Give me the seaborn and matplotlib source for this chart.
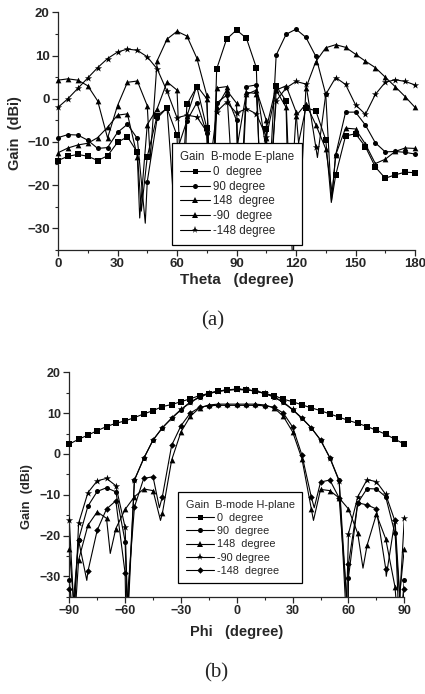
import matplotlib
matplotlib.use("Agg")
import matplotlib.pyplot as plt
import numpy as np
import pandas as pd
import seaborn as sns
from matplotlib.lines import Line2D
from matplotlib.ticker import MultipleLocator

# ---------------- data: (a) E-plane, Theta 0..180 step 5 ----------------
theta = list(range(0, 181, 5))
E_labels = ["0  degree", "90 degree", "148  degree", "-90  degree", "-148 degree"]
E_markers = ["s", "o", "^", "^", "*"]

E_0 = [-14.3, -13.3, -12.9, -13.3, -14.3, -13.2, -10.1, -8.8, -12.4, -13.4, -3.9, -2.2,
       -8.5, -1.3, 2.8, -6.8, 6.9, 13.8, 15.9, 14.0, 7.2, -7.0, 2.9, -0.5, -13.0, -2.1,
       -2.8, -9.5, -17.7, -8.6, -8.1, -11.1, -15.8, -18.4, -17.6, -17.0, -17.1]
E_90 = [-9.0, -8.3, -8.4, -9.6, -11.5, -11.3, -7.8, -5.9, -9.2, -19.2, -4.5, -2.1,
        -12.0, -5.1, -0.9, -8.0, -1.0, 0.8, -5.0, 2.8, 3.2, -12.0, 10.1, 14.9, 16.1, 14.2,
        9.8, 1.0, -13.0, -3.1, -3.1, -6.1, -10.2, -12.3, -12.2, -12.4, -12.8]
E_148 = [4.3, 4.6, 4.3, 3.0, -0.5, -9.1, -1.6, 3.8, 4.1, -1.6, 8.8, 13.8, 15.6, 14.5,
         9.4, 0.8, 2.5, 2.8, -12.0, 1.5, 1.2, -9.0, 2.0, -2.0, -4.0, -1.2, -6.0, -11.6,
         -13.0, -6.8, -7.0, -10.5, -15.0, -14.0, -12.2, -11.4, -11.5]
E_m90 = [-12.5, -11.4, -10.7, -10.3, -9.0, -6.6, -3.8, -3.5, -13.4, -6.0, -2.3, 3.9,
         2.0, -4.0, 3.0, 0.0, -2.0, 2.0, -1.0, 1.0, 2.0, -5.0, 2.0, 3.0, -3.0, 2.5, 8.6,
         11.8, 12.5, 11.9, 10.3, 8.7, 7.2, 5.0, 2.8, 0.5, -2.0]
E_m148 = [-2.0, 0.0, 2.4, 4.8, 7.2, 9.3, 10.8, 11.5, 11.2, 9.7, 6.9, 1.7, -4.4, -3.8,
          -4.2, -7.6, -3.0, -0.8, -3.3, -2.3, -3.5, -8.8, -0.5, 2.5, 4.0, 3.4, -11.2, 1.0,
          4.9, 3.3, -1.4, -3.6, 1.0, 3.8, 4.4, 4.0, 3.2]
# null (minimum) points of the traces between the marker positions
E_0_nx = [42.0, 61.5, 77.5, 102.5, 118.5, 137.8]
E_0_ny = [-26.0, -30.0, -31.0, -31.0, -40.0, -24.0]
E_90_nx = [44.0, 59.3, 76.5, 91.2, 105.3, 137.9]
E_90_ny = [-28.8, -30.0, -31.0, -31.0, -31.0, -23.5]
E_148_nx = [46.5, 77.5, 89.5, 103.5, 116.5, 138.3]
E_148_ny = [-14.0, -31.0, -31.0, -31.0, -30.0, -22.0]
E_m90_nx = [41.2, 63.0, 77.5, 91.8, 106.2, 122.8]
E_m90_ny = [-27.6, -30.0, -31.0, -30.0, -30.0, -18.4]
E_m148_nx = [76.8, 106.3, 130.8]
E_m148_ny = [-15.0, -22.0, -13.6]

# ---------------- data: (b) H-plane, Phi -90..90 step 5 ----------------
phi = list(range(-90, 91, 5))
H_labels = ["0  degree", "90  degree", "148  degree", "-90 degree", "-148  degree"]
H_markers = ["s", "o", "^", "*", "D"]

H_0 = [2.4, 3.6, 4.6, 5.7, 6.7, 7.5, 8.1, 8.9, 9.8, 10.6, 11.6, 12.1, 12.8, 13.5, 14.3,
       14.8, 15.3, 15.6, 15.8, 15.7, 15.4, 14.8, 14.3, 13.4, 12.8, 12.0, 11.3, 10.6, 9.8,
       9.0, 8.2, 7.5, 6.7, 5.8, 4.8, 3.6, 2.4]
H_90 = [-31.0, -21.0, -12.8, -9.2, -8.3, -9.3, -21.5, -6.4, -1.1, 3.4, 6.4, 8.7, 10.8,
        12.6, 13.9, 14.8, 15.4, 15.7, 15.8, 15.7, 15.4, 14.8, 13.9, 12.6, 10.8, 8.7, 6.4,
        3.4, -0.9, -6.5, -30.3, -12.0, -8.5, -8.6, -10.5, -19.5, -31.0]
H_148 = [-23.2, -26.0, -17.5, -14.2, -15.8, -18.3, -13.6, -10.5, -8.6, -9.0, -14.6, -1.5,
         5.4, 9.2, 11.3, 12.0, 12.2, 12.2, 12.2, 12.2, 12.2, 12.0, 11.3, 9.2, 5.4, -1.2,
         -13.4, -8.7, -9.0, -10.8, -13.5, -19.5, -22.4, -14.8, -20.8, -32.6, -23.2]
H_m90 = [-16.3, -17.0, -9.5, -6.6, -6.0, -7.8, -18.0, -6.4, -1.1, 3.4, 6.4, 8.8, 10.9,
         12.7, 14.0, 14.9, 15.4, 15.7, 15.9, 15.8, 15.4, 14.9, 14.0, 12.7, 10.9, 8.8, 6.4,
         3.4, -1.0, -6.7, -19.6, -10.5, -6.3, -6.8, -9.9, -16.5, -15.8]
H_m148 = [-33.0, -21.2, -28.8, -18.7, -13.5, -11.5, -29.3, -13.0, -6.0, -5.6, -10.5, 2.1,
          6.9, 10.0, 11.4, 11.8, 11.9, 11.9, 11.9, 11.9, 11.9, 11.8, 11.4, 10.0, 6.6, -0.3,
          -10.5, -6.9, -6.4, -10.8, -27.0, -12.0, -12.5, -13.5, -28.1, -16.1, -33.0]
H_0_nx, H_0_ny = [], []
H_90_nx = [-88.0, -58.8, 59.6, 88.3]
H_90_ny = [-40.0, -40.0, -40.0, -40.0]
H_148_nx = [-87.0, -68.0, -41.0, 41.2, 67.8, 86.3]
H_148_ny = [-40.0, -24.4, -16.3, -16.3, -28.0, -40.0]
H_m90_nx = [-87.3, -58.5, 58.8, 87.0]
H_m90_ny = [-40.0, -40.0, -40.0, -40.0]
H_m148_nx = [-88.5, -80.6, -59.6, -41.6, 41.6, 59.8, 80.3, 88.3]
H_m148_ny = [-40.0, -31.0, -40.0, -13.2, -13.2, -40.0, -30.0, -40.0]

# ---------------- style ----------------
sns.set_style("ticks")
plt.rcParams["font.family"] = ["Liberation Sans", "DejaVu Sans"]

MSIZE = {"s": 13, "o": 13, "^": 17, "*": 30, "D": 11}
LSIZE = {"s": 3.6, "o": 3.6, "^": 4.0, "*": 5.2, "D": 3.3}


def draw_series(ax, xs, ys, nx, ny, marker):
    df = pd.DataFrame({"x": list(xs) + list(nx), "y": list(ys) + list(ny)})
    df = df.sort_values("x")
    sns.lineplot(data=df, x="x", y="y", ax=ax, color="black", lw=0.8,
                 sort=False, estimator=None)
    sns.scatterplot(x=xs, y=ys, ax=ax, marker=marker, color="black",
                    s=MSIZE[marker], linewidth=0, clip_on=False, zorder=3)


def style_axes(ax, xlim, xmajor, xlabel, ylabel, tick_fs, xl_fs, yl_fs,
               xl_coords, yl_coords):
    ax.set_xlim(*xlim)
    ax.set_ylim(-35, 20)
    ax.xaxis.set_major_locator(MultipleLocator(xmajor))
    ax.xaxis.set_minor_locator(MultipleLocator(xmajor / 2))
    ax.yaxis.set_major_locator(MultipleLocator(10))
    ax.yaxis.set_minor_locator(MultipleLocator(5))
    sns.despine(ax=ax)
    for s in ("left", "bottom"):
        ax.spines[s].set_linewidth(0.9)
    ax.tick_params(which="major", direction="out", length=4, width=0.9,
                   labelsize=tick_fs, pad=2)
    ax.tick_params(which="minor", direction="out", length=2.2, width=0.8)
    for lab in ax.get_xticklabels() + ax.get_yticklabels():
        lab.set_fontweight("bold")
    ax.set_xlabel(xlabel, fontsize=xl_fs, fontweight="bold")
    ax.set_ylabel(ylabel, fontsize=yl_fs, fontweight="bold")
    ax.xaxis.set_label_coords(*xl_coords)
    ax.yaxis.set_label_coords(*yl_coords)


def add_legend(ax, labels, markers, title, anchor, fs, spacing):
    handles = [Line2D([0], [0], color="black", lw=0.8, marker=m,
                      markersize=LSIZE[m], markeredgewidth=0) for m in markers]
    leg = ax.legend(handles, labels, title=title, loc="upper left",
                    bbox_to_anchor=anchor, fontsize=fs, title_fontsize=fs,
                    handlelength=2.6, handletextpad=0.3, labelspacing=spacing,
                    borderpad=0.7, frameon=True, fancybox=False,
                    framealpha=1, edgecolor="black", alignment="left",
                    borderaxespad=0)
    leg.get_frame().set_linewidth(0.9)
    leg.set_zorder(5)


W, H = 425, 694
fig = plt.figure(figsize=(W / 100, H / 100), dpi=100)

# ---- (a) ----
ax1 = fig.add_axes([58 / W, 1 - 250 / H, 357 / W, 237.7 / H])
for ys, nx, ny, m in [(E_0, E_0_nx, E_0_ny, "s"), (E_90, E_90_nx, E_90_ny, "o"),
                      (E_148, E_148_nx, E_148_ny, "^"),
                      (E_m90, E_m90_nx, E_m90_ny, "^"),
                      (E_m148, E_m148_nx, E_m148_ny, "*")]:
    draw_series(ax1, theta, ys, nx, ny, m)
style_axes(ax1, (0, 180), 30, "Theta   (degree)", "Gain  (dBi)", 9.5, 11, 10.5,
           (0.5, -0.095), (-0.10, 0.49))
add_legend(ax1, E_labels, E_markers, "Gain  B-mode E-plane", (0.319, 0.45), 8.3, 0.24)

# ---- (b) ----
ax2 = fig.add_axes([69.3 / W, 1 - 596.7 / H, 335 / W, 224.4 / H])
for ys, nx, ny, m in [(H_0, H_0_nx, H_0_ny, "s"), (H_90, H_90_nx, H_90_ny, "o"),
                      (H_148, H_148_nx, H_148_ny, "^"),
                      (H_m90, H_m90_nx, H_m90_ny, "*"),
                      (H_m148, H_m148_nx, H_m148_ny, "D")]:
    draw_series(ax2, phi, ys, nx, ny, m)
style_axes(ax2, (-90, 90), 30, "Phi   (degree)", "Gain  (dBi)", 9, 10.5, 9.3,
           (0.5, -0.128), (-0.108, 0.445))
add_legend(ax2, H_labels, H_markers, "Gain  B-mode H-plane", (0.3245, 0.4666), 7.8, 0.3)

fig.text(213 / W, 1 - 321 / H, "(a)", ha="center", va="center",
         fontsize=15, family=["Liberation Serif", "DejaVu Serif"])
fig.text(216 / W, 1 - 673 / H, "(b)", ha="center", va="center",
         fontsize=15, family=["Liberation Serif", "DejaVu Serif"])

fig.savefig("out.png", dpi=100, facecolor="white")
